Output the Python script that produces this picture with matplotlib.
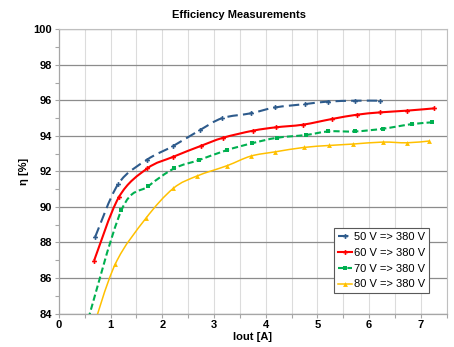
import matplotlib
matplotlib.use("Agg")
import matplotlib.pyplot as plt
from matplotlib.ticker import MultipleLocator
from matplotlib.path import Path
from matplotlib.patches import PathPatch
from matplotlib.lines import Line2D

plt.rcParams['font.family'] = ['Liberation Sans', 'DejaVu Sans']

title = "Efficiency Measurements"
xlabel = "Iout [A]"
ylabel = "η [%]"
series_names = ["50 V => 380 V", "60 V => 380 V", "70 V => 380 V", "80 V => 380 V"]

x50 = [0.70, 1.15, 1.70, 2.21, 2.73, 3.16, 3.71, 4.18, 4.76, 5.20, 5.73, 6.20]
y50 = [88.3, 91.3, 92.65, 93.43, 94.33, 95.0, 95.27, 95.6, 95.79, 95.93, 95.98, 95.98]

x60 = [0.68, 1.16, 1.71, 2.21, 2.75, 3.17, 3.75, 4.19, 4.72, 5.28, 5.76, 6.20, 6.73, 7.26]
y60 = [86.97, 90.55, 92.17, 92.82, 93.44, 93.89, 94.29, 94.48, 94.63, 94.95, 95.19, 95.32, 95.42, 95.55]

x70 = [0.52, 1.21, 1.73, 2.23, 2.71, 3.25, 3.73, 4.21, 4.78, 5.21, 5.73, 6.26, 6.82, 7.21]
y70 = [83.2, 89.82, 91.17, 92.17, 92.64, 93.2, 93.58, 93.89, 94.05, 94.25, 94.25, 94.4, 94.66, 94.76]

x80 = [0.62, 1.09, 1.68, 2.21, 2.67, 3.25, 3.71, 4.18, 4.74, 5.23, 5.69, 6.26, 6.73, 7.16]
y80 = [82.8, 86.78, 89.35, 91.04, 91.74, 92.32, 92.86, 93.1, 93.35, 93.46, 93.54, 93.65, 93.61, 93.71]

colors = ["#2e5b8c", "#ff0000", "#00b050", "#ffc000"]
styles = [(0, (5, 2.5)), "-", (0, (3, 1.5)), "-"]
widths = [1.5, 1.5, 1.5, 1.1]
markers = ["P", "P", "s", "^"]


def smooth_path(xs, ys):
    # Bezier path through the data points (Excel-style smoothed line)
    pts = list(zip(xs, ys))
    verts = [pts[0]]
    codes = [Path.MOVETO]
    n = len(pts)
    for i in range(n - 1):
        p0 = pts[i - 1] if i > 0 else pts[i]
        p1 = pts[i]
        p2 = pts[i + 1]
        p3 = pts[i + 2] if i + 2 < n else pts[i + 1]
        c1 = (p1[0] + (p2[0] - p0[0]) / 6.0, p1[1] + (p2[1] - p0[1]) / 6.0)
        c2 = (p2[0] - (p3[0] - p1[0]) / 6.0, p2[1] - (p3[1] - p1[1]) / 6.0)
        verts += [c1, c2, p2]
        codes += [Path.CURVE4, Path.CURVE4, Path.CURVE4]
    return Path(verts, codes)


fig = plt.figure(figsize=(4.54, 3.47), dpi=100)
ax = fig.add_axes([0.1297, 0.0965, 0.984 - 0.1297, 0.9156 - 0.0965])

ax.set_xlim(0, 7.5)
ax.set_ylim(84, 100)
ax.xaxis.set_major_locator(MultipleLocator(1))
ax.xaxis.set_minor_locator(MultipleLocator(0.5))
ax.yaxis.set_major_locator(MultipleLocator(2))
ax.yaxis.set_minor_locator(MultipleLocator(1))

ax.grid(True, which="major", axis="y", color="#8c8c8c", linewidth=0.9, zorder=0)
ax.grid(True, which="both", axis="x", color="#dcdcdc", linewidth=0.8, zorder=0)
ax.set_axisbelow(True)

for s in ["top", "right"]:
    ax.spines[s].set_color("#bfbfbf")
    ax.spines[s].set_linewidth(0.8)
for s in ["left", "bottom"]:
    ax.spines[s].set_color("#a6a6a6")
    ax.spines[s].set_linewidth(0.9)

ax.tick_params(axis="both", which="both", color="#a6a6a6", length=3, width=0.8, direction="out")
ax.tick_params(axis="both", which="major", labelsize=8, pad=2)
for lbl in ax.get_xticklabels() + ax.get_yticklabels():
    lbl.set_fontweight("bold")

handles = []
for xs, ys, c, ls, lw, mk, name in zip([x50, x60, x70, x80], [y50, y60, y70, y80],
                                       colors, styles, widths, markers, series_names):
    patch = PathPatch(smooth_path(xs, ys), facecolor="none", edgecolor=c,
                      linestyle=ls, linewidth=lw, zorder=3, transform=ax.transData)
    patch.set_clip_path(ax.patch)
    ax.add_patch(patch)
    ax.plot(xs, ys, linestyle="none", color=c, marker=mk, markersize=3.5,
            markeredgewidth=0, zorder=4)
    handles.append(Line2D([], [], color=c, linestyle=ls, linewidth=lw, marker=mk,
                          markersize=3.5, markeredgewidth=0, label=name))

ax.set_xlabel(xlabel, fontsize=8, fontweight="bold", labelpad=1)
ax.set_ylabel(ylabel, fontsize=8, fontweight="bold", labelpad=3)

fig.text(0.527, 0.957, title, ha="center", va="center", fontsize=8, fontweight="bold")

leg = ax.legend(handles=handles, loc="upper left", bbox_to_anchor=(0.709, 0.30), fontsize=8,
                frameon=True, fancybox=False, framealpha=1, edgecolor="#595959",
                handlelength=1.3, handletextpad=0.15, labelspacing=0.52,
                borderpad=0.35, borderaxespad=0)
leg.get_frame().set_linewidth(0.8)

fig.savefig("out.png", dpi=100)
